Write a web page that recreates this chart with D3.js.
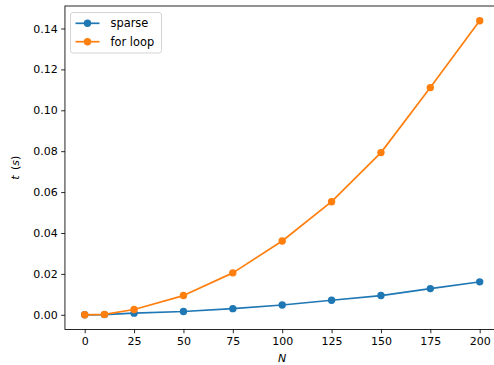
<!DOCTYPE html>
<html>
<head>
<meta charset="utf-8">
<script src="https://cdn.jsdelivr.net/npm/d3@7"></script>
<style>
  html, body { margin: 0; padding: 0; background: #fff; }
  svg { display: block; font-family: "DejaVu Sans", sans-serif; }
</style>
</head>
<body>
<script>
// Problem sizes and measured run times (seconds)
const sizes = [0, 10, 25, 50, 75, 100, 125, 150, 175, 200];
const sparseTimes = [0.0000, 0.0001, 0.0008, 0.0016, 0.0030, 0.0048, 0.0071, 0.0094, 0.0128, 0.0161];
const loopTimes   = [0.0000, 0.0002, 0.0026, 0.0094, 0.0205, 0.0361, 0.0553, 0.0793, 0.1111, 0.1438];
const seriesNames = ["sparse", "for loop"];
const seriesColors = ["#1f77b4", "#ff7f0e"];
const xTickValues = [0, 25, 50, 75, 100, 125, 150, 175, 200];
const yTickValues = [0.00, 0.02, 0.04, 0.06, 0.08, 0.10, 0.12, 0.14];

const W = 494, H = 365;
const plot = { left: 64.95, top: 6, bottom: 329.5 };

const svg = d3.select("body").append("svg").attr("width", W).attr("height", H);

// matplotlib-style 5% data margins
const xMin = d3.min(sizes), xMax = d3.max(sizes);
const xPad = (xMax - xMin) * 0.05;
const allY = sparseTimes.concat(loopTimes);
const yMin = d3.min(allY), yMax = d3.max(allY);
const yPad = (yMax - yMin) * 0.05;

const pxPerUnit = 1.975;
const x = d3.scaleLinear()
  .domain([xMin - xPad, xMax + xPad])
  .range([plot.left, plot.left + (xMax - xMin + 2 * xPad) * pxPerUnit]);
const y = d3.scaleLinear()
  .domain([yMin - yPad, yMax + yPad])
  .range([plot.bottom, plot.top]);

const x0 = x.range()[0], x1 = x.range()[1];

// Series lines and markers
const series = [sparseTimes, loopTimes];
const line = d3.line().x((d, i) => x(sizes[i])).y(d => y(d));
series.forEach((vals, k) => {
  const g = svg.append("g");
  g.append("path").datum(vals)
    .attr("d", line)
    .attr("fill", "none")
    .attr("stroke", seriesColors[k])
    .attr("stroke-width", 1.7)
    .attr("stroke-linejoin", "round")
    .attr("stroke-linecap", "square");
  g.selectAll("circle").data(vals).join("circle")
    .attr("cx", (d, i) => x(sizes[i]))
    .attr("cy", d => y(d))
    .attr("r", 3.7)
    .attr("fill", seriesColors[k]);
});

// Axes
const fontSize = 11;
const xAxis = d3.axisBottom(x).tickValues(xTickValues).tickFormat(d3.format("d"))
  .tickSize(3.75).tickPadding(3.5);
const yAxis = d3.axisLeft(y).tickValues(yTickValues).tickFormat(d3.format(".2f"))
  .tickSize(3.75).tickPadding(3.5);

const gx = svg.append("g").attr("transform", `translate(0,${plot.bottom})`).call(xAxis);
const gy = svg.append("g").attr("transform", `translate(${plot.left},0)`).call(yAxis);
[gx, gy].forEach(g => {
  g.select(".domain").remove();
  g.selectAll(".tick line").attr("stroke", "#000").attr("stroke-width", 0.85);
  g.selectAll(".tick text").attr("fill", "#000")
    .style("font-family", "DejaVu Sans").style("font-size", fontSize + "px");
});

// Spines
svg.append("rect")
  .attr("x", x0).attr("y", plot.top)
  .attr("width", x1 - x0).attr("height", plot.bottom - plot.top)
  .attr("fill", "none").attr("stroke", "#000").attr("stroke-width", 0.85);

// Axis labels
svg.append("text")
  .attr("x", x(100)).attr("y", 362)
  .attr("text-anchor", "middle")
  .style("font-size", fontSize + "px").style("font-style", "italic")
  .text("N");

const yl = svg.append("text")
  .attr("transform", `translate(19,${(plot.top + plot.bottom) / 2}) rotate(-90)`)
  .attr("text-anchor", "middle")
  .style("font-size", fontSize + "px");
yl.append("tspan").style("font-style", "italic").text("t");
yl.append("tspan").text("\u2002(");
yl.append("tspan").style("font-style", "italic").text("s");
yl.append("tspan").text(")");

// Legend
const lg = svg.append("g");
lg.append("rect")
  .attr("x", 70.5).attr("y", 12.5).attr("width", 91).attr("height", 40.5)
  .attr("rx", 2.5).attr("ry", 2.5)
  .attr("fill", "#fff").attr("fill-opacity", 0.8)
  .attr("stroke", "#ccc").attr("stroke-width", 0.85);
const rowY = [23.3, 41.7];
seriesNames.forEach((name, k) => {
  lg.append("line")
    .attr("x1", 75.5).attr("x2", 99.5).attr("y1", rowY[k]).attr("y2", rowY[k])
    .attr("stroke", seriesColors[k]).attr("stroke-width", 1.7);
  lg.append("circle").attr("cx", 87.5).attr("cy", rowY[k]).attr("r", 3.7)
    .attr("fill", seriesColors[k]);
  lg.append("text").attr("x", 110.5).attr("y", rowY[k]).attr("dy", "0.35em")
    .style("font-size", "11.4px").attr("fill", "#000").text(name);
});
</script>
</body>
</html>
